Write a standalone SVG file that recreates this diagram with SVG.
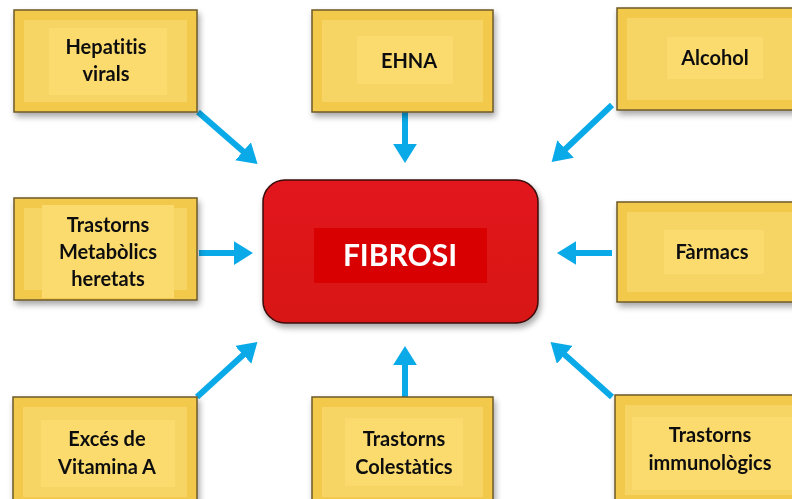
<svg xmlns="http://www.w3.org/2000/svg" width="792" height="499" viewBox="0 0 792 499">
<style>
.frame{fill:#f2c94c;stroke:#6e5a2a;stroke-width:1.5}
.bevel{fill:#f7d565}
.panel{fill:#fbdb6e}
.lbl{font-family:Lato,"Open Sans",sans-serif;font-weight:bold;font-size:20px;fill:#111;text-anchor:middle;font-variant-ligatures:none}
.conn{stroke:#0aaae8;stroke-width:6;fill:none;marker-end:url(#ah)}
</style>
<defs>
<marker id="ah" markerWidth="4" markerHeight="4" refX="2.2" refY="2" orient="auto" markerUnits="strokeWidth"><path d="M0,0 L3.2,2 L0,4 z" fill="#0aaae8"/></marker>
<filter id="sh" x="-10%" y="-10%" width="125%" height="130%"><feGaussianBlur in="SourceAlpha" stdDeviation="3"/><feOffset dx="2" dy="4"/><feComponentTransfer><feFuncA type="linear" slope="0.35"/></feComponentTransfer><feMerge><feMergeNode/><feMergeNode in="SourceGraphic"/></feMerge></filter>
<linearGradient id="red" x1="0" y1="0" x2="0" y2="1"><stop offset="0" stop-color="#e2181b"/><stop offset="1" stop-color="#d81517"/></linearGradient>
</defs>
<rect width="792" height="499" fill="#ffffff"/>
<g id="connectors">
<line class="conn" x1="198" y1="112" x2="253" y2="160"/>
<line class="conn" x1="405" y1="112" x2="405" y2="157"/>
<line class="conn" x1="612" y1="105" x2="556" y2="158"/>
<line class="conn" x1="199" y1="253" x2="247" y2="253"/>
<line class="conn" x1="612" y1="253" x2="563" y2="253"/>
<line class="conn" x1="197" y1="397" x2="253" y2="346"/>
<line class="conn" x1="405" y1="397" x2="405" y2="352"/>
<line class="conn" x1="612" y1="397" x2="555" y2="346"/>
</g>
<g id="hepatitis" filter="url(#sh)">
<rect class="frame" x="14" y="10" width="183" height="102"/>
<rect class="bevel" x="24" y="20" width="163" height="82"/>
<rect class="panel" x="49" y="28" width="118" height="67"/>
<text class="lbl" x="106" y="54">Hepatitis</text>
<text class="lbl" x="106" y="81">virals</text>
</g>
<g id="ehna" filter="url(#sh)">
<rect class="frame" x="312" y="10" width="181" height="102"/>
<rect class="bevel" x="322" y="20" width="161" height="82"/>
<rect class="panel" x="357" y="36" width="96" height="48"/>
<text class="lbl" x="409" y="68">EHNA</text>
</g>
<g id="alcohol" filter="url(#sh)">
<rect class="frame" x="617" y="8" width="190" height="102"/>
<rect class="bevel" x="627" y="18" width="170" height="82"/>
<rect class="panel" x="667" y="37" width="96" height="42"/>
<text class="lbl" x="715" y="65">Alcohol</text>
</g>
<g id="metabolics" filter="url(#sh)">
<rect class="frame" x="14" y="198" width="183" height="102"/>
<rect class="bevel" x="24" y="208" width="163" height="82"/>
<rect class="panel" x="42" y="205" width="132" height="93"/>
<text class="lbl" x="108" y="232">Trastorns</text>
<text class="lbl" x="108" y="259">Metabòlics</text>
<text class="lbl" x="108" y="286">heretats</text>
</g>
<g id="farmacs" filter="url(#sh)">
<rect class="frame" x="617" y="202" width="190" height="100"/>
<rect class="bevel" x="627" y="212" width="170" height="80"/>
<rect class="panel" x="664" y="230" width="100" height="44"/>
<text class="lbl" x="712" y="259">Fàrmacs</text>
</g>
<g id="fibrosi" filter="url(#sh)">
<rect x="263" y="180" width="275" height="143" rx="22" fill="url(#red)" stroke="#3a0a0a" stroke-width="1.5"/>
<rect x="314" y="228" width="173" height="55" fill="#d80000"/>
<text x="400" y="266" font-family="Lato,'Open Sans',sans-serif" font-weight="bold" font-size="30" fill="#ffffff" text-anchor="middle">FIBROSI</text>
</g>
<g id="exces" filter="url(#sh)">
<rect class="frame" x="13" y="397" width="184" height="110"/>
<rect class="bevel" x="23" y="407" width="164" height="90"/>
<rect class="panel" x="41" y="420" width="134" height="67"/>
<text class="lbl" x="107" y="446">Excés de</text>
<text class="lbl" x="107" y="474">Vitamina A</text>
</g>
<g id="colestatics" filter="url(#sh)">
<rect class="frame" x="312" y="397" width="181" height="110"/>
<rect class="bevel" x="322" y="407" width="161" height="90"/>
<rect class="panel" x="345" y="418" width="118" height="68"/>
<text class="lbl" x="404" y="446">Trastorns</text>
<text class="lbl" x="404" y="474">Colestàtics</text>
</g>
<g id="immunologics" filter="url(#sh)">
<rect class="frame" x="615" y="395" width="190" height="110"/>
<rect class="bevel" x="625" y="405" width="170" height="90"/>
<rect class="panel" x="632" y="417" width="160" height="73"/>
<text class="lbl" x="710" y="442">Trastorns</text>
<text class="lbl" x="710" y="470">immunològics</text>
</g>
</svg>
